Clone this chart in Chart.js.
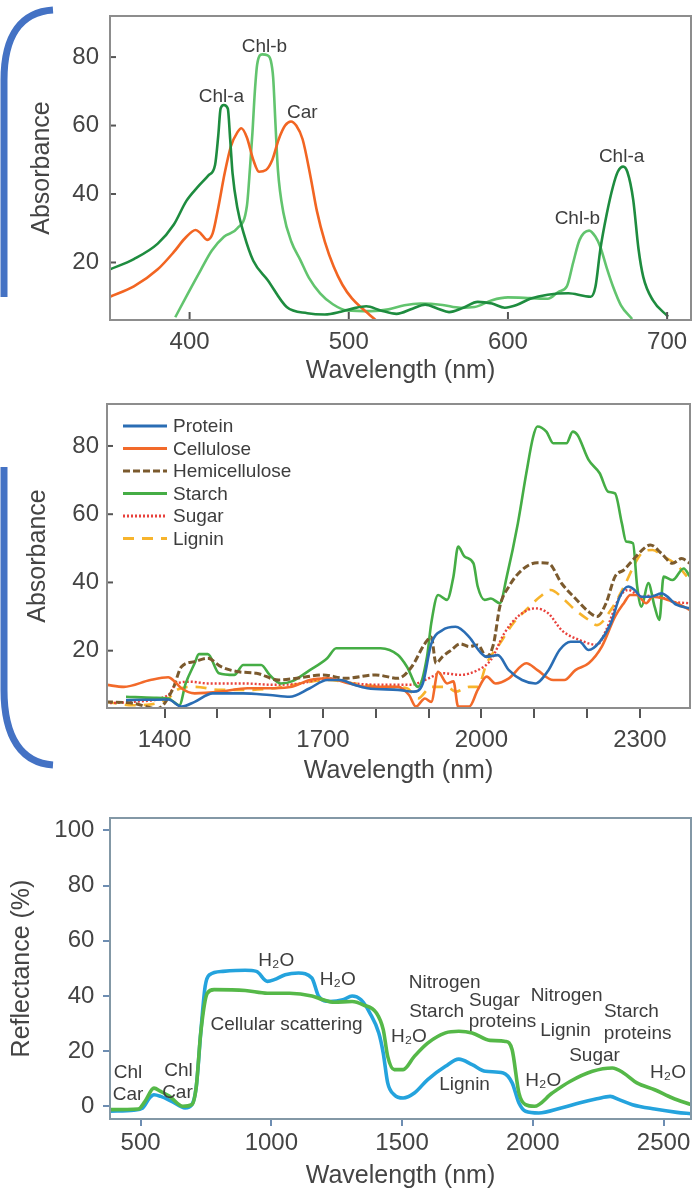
<!DOCTYPE html>
<html>
<head>
<meta charset="utf-8">
<script src="https://cdn.jsdelivr.net/npm/chart.js@4.4.1/dist/chart.umd.min.js"></script>
<style>
html, body { margin: 0; padding: 0; background: #fff; }
#wrap { position: relative; width: 694px; height: 1189px; overflow: hidden; }
canvas { position: absolute; left: 0; }
#c1 { top: 0; width: 694px; height: 390px; }
#c2 { top: 390px; width: 694px; height: 400px; }
#c3 { top: 800px; width: 694px; height: 389px; }
svg { position: absolute; left: 0; top: 0; }
</style>
</head>
<body>
<div id="wrap">
  <canvas id="c1" width="694" height="390"></canvas>
  <canvas id="c2" width="694" height="400"></canvas>
  <canvas id="c3" width="694" height="389"></canvas>
  <svg width="694" height="1189">
    <path d="M 53 10 C 22 12, 4 34, 4 80 L 4 297" fill="none" stroke="#4472c4" stroke-width="7"/>
    <path d="M 4 467 L 4 690 C 4 738, 22 763, 53 765" fill="none" stroke="#4472c4" stroke-width="7"/>
  </svg>
</div>
<script>
// --- painel 1: pigmentos (visivel) ---
const chlaNm  = [350, 365, 380, 390, 398, 405, 412, 416, 418, 419.5, 421.5, 424, 425.5, 427, 430, 434, 440, 449, 461, 474, 485, 495, 503, 511, 520, 530, 540, 548, 556, 563, 572, 581, 590, 598, 605, 614, 625, 638, 648, 652, 655, 658, 662, 666, 669, 672.4, 675, 678.7, 682, 685, 691, 700.6];
const chlaAbs = [18, 21, 25.5, 31, 38, 42, 45.5, 48.5, 57, 65, 66, 65, 56, 46, 36, 28.5, 20.5, 14.9, 7, 5.2, 4.8, 5.6, 6.6, 7.2, 6, 5, 6.5, 7.7, 6.5, 5.5, 6.8, 8.5, 8, 6.8, 7.5, 9.4, 10.6, 11, 10.2, 10, 13, 23.7, 34, 42.2, 46.5, 48, 46.5, 38.3, 24, 15.8, 9, 4.2];
const chlbNm  = [391, 399, 407, 414, 421.6, 430, 436, 438, 439.5, 441, 442.5, 445.6, 449, 451, 452.5, 454, 455.5, 459, 464, 469.6, 475, 482, 490, 499, 514, 525, 535, 545, 559, 570, 579, 590, 600, 614, 625, 632, 637, 641, 645, 651, 655, 658, 662, 666, 671, 678];
const chlbAbs = [4, 11, 17.8, 23.5, 27.5, 30, 36.5, 48, 58, 70, 78, 80.8, 80.5, 79, 74, 60, 47, 34.4, 26, 20.7, 15.5, 11, 7.8, 6, 5.8, 6.3, 7.5, 8, 7.6, 6.8, 7, 9, 9.8, 9.6, 9.4, 11.5, 13, 20, 26.6, 29.3, 27.5, 24.6, 18.5, 13, 7.5, 3.5];
const carNm   = [350, 365, 380, 390, 397, 403.8, 407, 411, 414.5, 418, 422, 426, 430, 432.5, 436, 440, 443.6, 448, 452, 456, 460, 463.7, 467, 471, 476, 480, 485, 490.5, 496, 502, 508, 512, 516.8];
const carAbs  = [10, 13, 18, 23, 27, 29.5, 28.5, 26.6, 28.5, 36, 46, 54, 58, 59.2, 56.5, 50, 46.5, 47, 50, 56, 60, 61.2, 60, 56, 45, 35, 26, 18.8, 13.5, 9.5, 6.8, 5.2, 3.2];
const topNoteText = ['Chl-a', 'Chl-b', 'Car', 'Chl-a', 'Chl-b'];
const topNoteNm   = [420, 447, 470.8, 671.4, 643.6];
const topNoteAbs  = [68.5, 83.1, 63.6, 50.8, 32.7];
const topTicksX = [400, 500, 600, 700];
const absTicksY = [20, 40, 60, 80];

// --- painel 2: constituintes (NIR/SWIR) ---
const proteinNm  = [1327, 1360, 1407, 1432, 1457, 1491, 1549, 1599, 1637, 1675, 1708, 1733, 1759, 1784, 1842, 1872, 1889, 1905, 1926, 1951, 1977, 1997, 2010, 2031, 2052, 2077, 2102, 2127, 2148, 2169, 2186, 2203, 2224, 2245, 2262, 2278, 2290, 2303, 2320, 2341, 2370, 2395];
const proteinAbs = [5.5, 5.6, 5.7, 3.6, 5, 7.5, 7.5, 7, 6.5, 9, 11.4, 11.4, 10, 9, 8.5, 8, 10.4, 22, 26, 27, 24, 19.7, 18.2, 18.7, 14.3, 11.4, 10.4, 14.3, 20.2, 22.6, 22.6, 20.2, 22.6, 28, 35.8, 38.8, 37.8, 35.8, 35.8, 36.8, 33.4, 32.4];
const celluloseNm  = [1289, 1323, 1373, 1407, 1419, 1432, 1457, 1507, 1557, 1608, 1641, 1675, 1708, 1750, 1784, 1842, 1863, 1876, 1893, 1905, 1918, 1935, 1947, 1956, 1977, 1993, 2010, 2027, 2052, 2085, 2106, 2136, 2157, 2178, 2203, 2228, 2253, 2270, 2282, 2295, 2312, 2324, 2345, 2370, 2395];
const celluloseAbs = [10, 9.4, 11.4, 12.2, 11, 9, 7.5, 8, 9, 9, 9.4, 11.4, 11.9, 10.4, 9.4, 9.4, 7, 3.6, 6, 5, 13.8, 10.4, 11, 3.6, 3.6, 8.5, 12.4, 10.4, 11.9, 16.3, 14.3, 11.4, 11.4, 14.3, 16.3, 21.2, 30, 34, 36.3, 36.3, 33.9, 35.8, 35.3, 33.9, 31.9];
const hemiNm  = [1289, 1340, 1386, 1415, 1432, 1457, 1482, 1507, 1541, 1574, 1616, 1650, 1700, 1742, 1800, 1842, 1868, 1893, 1905, 1914, 1926, 1943, 1960, 1977, 1993, 2010, 2023, 2035, 2052, 2077, 2106, 2127, 2152, 2178, 2203, 2219, 2236, 2253, 2270, 2287, 2308, 2320, 2341, 2362, 2379, 2395];
const hemiAbs = [5, 4.6, 3, 8.5, 15.3, 16.8, 17.8, 15.3, 13.8, 13.4, 11.4, 11.9, 12.9, 11.9, 12.9, 11.9, 15.3, 22.1, 24, 16.3, 18.2, 20.2, 22, 21.2, 21.7, 18.2, 22, 33, 38.8, 43.7, 45.8, 45.6, 39.7, 35.3, 31.4, 30, 33.9, 41.7, 43.7, 46.6, 50, 51, 48.5, 45.6, 47, 45.6];
const starchNm  = [1327, 1380, 1407, 1428, 1440, 1457, 1465, 1482, 1503, 1532, 1549, 1583, 1599, 1620, 1641, 1675, 1708, 1725, 1809, 1842, 1859, 1880, 1897, 1905, 1918, 1935, 1947, 1956, 1968, 1985, 1993, 2006, 2018, 2035, 2048, 2069, 2085, 2098, 2106, 2123, 2136, 2161, 2173, 2182, 2203, 2224, 2240, 2253, 2266, 2274, 2287, 2295, 2303, 2316, 2328, 2337, 2345, 2362, 2383, 2395];
const starchAbs = [6.5, 6.2, 6, 4, 10.4, 16.3, 19, 19, 13.4, 12.9, 15.8, 15.8, 12.9, 10.4, 11, 14.3, 17.8, 20.7, 20.7, 18.7, 15.3, 9.4, 18.2, 28, 36.3, 34.9, 41.7, 50.5, 47.6, 45.6, 38.8, 34.9, 35.3, 33.9, 41.7, 57.3, 72, 82.7, 85.7, 84.2, 80.8, 80.8, 84.2, 83.2, 75.9, 72, 66.6, 66.1, 57.3, 52, 51.5, 38.8, 32.9, 39.8, 32.9, 29, 41.7, 40.7, 44.1, 41.7];
const sugarNm  = [1289, 1340, 1407, 1423, 1449, 1482, 1549, 1608, 1658, 1708, 1759, 1817, 1868, 1893, 1926, 1960, 1993, 2018, 2043, 2069, 2102, 2127, 2152, 2186, 2219, 2236, 2262, 2278, 2303, 2328, 2362, 2395];
const sugarAbs = [4.6, 5, 7, 10.4, 10.9, 10.4, 10.4, 10, 10.4, 11.9, 10.4, 10, 10, 11.4, 13.4, 12.9, 14.3, 17.3, 25, 30, 32.4, 30.9, 26, 23.1, 21.7, 26, 35.8, 37.8, 35.8, 36.3, 34.4, 33.9];
const ligninNm  = [1289, 1340, 1407, 1423, 1457, 1507, 1557, 1608, 1658, 1708, 1759, 1817, 1859, 1880, 1905, 1935, 1951, 1977, 1993, 2010, 2035, 2060, 2085, 2111, 2131, 2157, 2178, 2203, 2219, 2245, 2270, 2291, 2303, 2324, 2345, 2370, 2395];
const ligninAbs = [5, 4, 6, 8.5, 9.4, 8.5, 8.5, 9, 10.4, 11.4, 10.4, 9.4, 9, 6, 9.4, 9.4, 8, 9.4, 9.4, 16.3, 22.1, 28, 32, 35.8, 37.8, 34.9, 31.9, 29, 27.5, 31.9, 38.8, 45.6, 48.5, 49.5, 47.6, 45.1, 40.7];
const midTicksX  = [1400, 1500, 1600, 1700, 1800, 1900, 2000, 2100, 2200, 2300];
const midLabelsX = [1400, 1700, 2000, 2300];

// --- painel 3: reflectancia da folha ---
const blueNm  = [383, 474, 508, 534, 551, 577, 619, 670, 696, 713, 730, 747, 764, 815, 900, 943, 985, 1011, 1053, 1104, 1155, 1181, 1223, 1274, 1309, 1343, 1377, 1411, 1428, 1445, 1470, 1504, 1547, 1598, 1666, 1717, 1768, 1819, 1887, 1921, 1947, 1972, 2023, 2108, 2177, 2245, 2296, 2330, 2381, 2466, 2551, 2605];
const blueRef = [-1.8, -1.4, -0.6, 3, 4.2, 3.6, 1.8, -0.6, 0.6, 7.2, 26.6, 43.5, 47.7, 48.9, 49.3, 48.9, 45.3, 45.9, 47.7, 48.3, 46.5, 39.9, 38, 38.6, 40, 38.6, 33.8, 26.6, 19.3, 8.5, 4.2, 3, 4.8, 9.7, 14.5, 17.1, 15.1, 12.7, 12.1, 8.5, 1.2, -1.8, -2.4, -0.6, 1.2, 2.7, 3.6, 2.4, 0.6, -1, -2.2, -2.7];
const greenNm  = [383, 491, 517, 551, 577, 611, 662, 696, 713, 730, 755, 781, 900, 985, 1070, 1155, 1198, 1240, 1309, 1351, 1402, 1428, 1445, 1470, 1504, 1547, 1598, 1666, 1717, 1768, 1836, 1896, 1921, 1947, 1972, 2006, 2074, 2142, 2228, 2304, 2347, 2398, 2466, 2534, 2605];
const greenRef = [-1.2, -1, 1.8, 6.6, 5.4, 3.6, 0, 0.6, 7.2, 26.6, 41, 42.3, 42, 41, 41, 40, 38.6, 37.7, 38, 36.8, 33.8, 27.8, 18.1, 13.3, 13.3, 18.1, 22.9, 26.6, 27.2, 26.6, 23.9, 23.5, 20.5, 4.8, 0.6, 0, 4.8, 9, 12.7, 13.9, 12.1, 8.5, 6, 3, 0.6];
const refNoteText = ['H\u2082O', 'H\u2082O', 'Cellular scattering', 'Nitrogen', 'Starch', 'Sugar', 'proteins', 'H\u2082O', 'Lignin', 'Nitrogen', 'Lignin', 'Starch', 'proteins', 'Sugar', 'H\u2082O', 'H\u2082O', 'Chl', 'Car', 'Chl', 'Car'];
const refNoteNm   = [1019, 1254, 1058, 1663, 1632, 1853, 1884, 1526, 1739, 2129, 2125, 2377, 2401, 2236, 2040, 2517, 452, 452, 645, 641];
const refNoteRef  = [52.8, 45.9, 29.6, 44.9, 34.2, 38.4, 30.8, 25.1, 7.9, 39.9, 27.4, 34.2, 26.2, 18.5, 9.3, 12.1, 12.3, 4.2, 13, 4.8];
const refTicksX = [500, 1000, 1500, 2000, 2500];
const refTicksY = [0, 20, 40, 60, 80, 100];

const FONT = "'Liberation Sans', Arial, Helvetica, sans-serif";
Chart.defaults.font.family = FONT;

function pts(xs, ys) {
    return xs.map((x, i) => ({ x: x, y: ys[i] }));
}

function serie(label, xs, ys, color, width, dash) {
    return {
        label: label,
        data: pts(xs, ys),
        borderColor: color,
        backgroundColor: color,
        borderWidth: width,
        borderDash: dash || [],
        pointRadius: 0,
        tension: 0.4,
        cubicInterpolationMode: 'monotone',
        fill: false
    };
}

// moldura, ticks para dentro, textos e legenda
const panelDeco = {
    id: 'panelDeco',
    afterDraw(chart, args, o) {
        const { ctx, chartArea: a, scales } = chart;
        ctx.save();
        ctx.strokeStyle = o.tickColor || '#555';
        ctx.lineWidth = 2;
        if (o.innerX) {
            scales.x.ticks.forEach(t => {
                const px = scales.x.getPixelForValue(t.value);
                ctx.beginPath(); ctx.moveTo(px, a.bottom); ctx.lineTo(px, a.bottom - o.innerX); ctx.stroke();
            });
        }
        if (o.innerY) {
            scales.y.ticks.forEach(t => {
                const py = scales.y.getPixelForValue(t.value);
                ctx.beginPath(); ctx.moveTo(a.left, py); ctx.lineTo(a.left + o.innerY, py); ctx.stroke();
            });
        }
        ctx.strokeStyle = o.frameColor;
        ctx.lineWidth = 2;
        ctx.strokeRect(a.left, a.top, a.right - a.left, a.bottom - a.top);

        if (o.notes) {
            ctx.fillStyle = '#3d3d3d';
            ctx.font = '19px ' + FONT;
            ctx.textAlign = 'center';
            ctx.textBaseline = 'middle';
            o.notes.text.forEach((txt, i) => {
                ctx.fillText(txt, scales.x.getPixelForValue(o.notes.x[i]), scales.y.getPixelForValue(o.notes.y[i]));
            });
        }

        if (o.legend) {
            ctx.font = '19px ' + FONT;
            ctx.textAlign = 'left';
            ctx.textBaseline = 'middle';
            chart.data.datasets.forEach((ds, i) => {
                const y = o.legend.top + i * o.legend.step;
                ctx.strokeStyle = ds.borderColor;
                ctx.lineWidth = 3;
                ctx.setLineDash(ds.borderDash);
                ctx.beginPath(); ctx.moveTo(o.legend.left, y); ctx.lineTo(o.legend.left + 44, y); ctx.stroke();
                ctx.setLineDash([]);
                ctx.fillStyle = '#3d3d3d';
                ctx.fillText(ds.label, o.legend.left + 50, y + 1);
            });
        }
        ctx.restore();
    }
};

function eixoX(o) {
    return {
        type: 'linear',
        min: o.min, max: o.max,
        afterFit: s => { s.height = o.height; s.paddingLeft = 0; s.paddingRight = 0; },
        afterBuildTicks: s => { s.ticks = o.ticks.map(v => ({ value: v })); },
        grid: { display: o.tickLen > 0, drawOnChartArea: false, drawTicks: o.tickLen > 0, tickLength: o.tickLen, color: o.tickColor, lineWidth: 2 },
        border: { display: false },
        ticks: {
            autoSkip: false, maxRotation: 0,
            padding: o.pad, color: '#444', font: { size: 24 },
            callback: v => (!o.labels || o.labels.includes(v) ? String(v) : '')
        },
        title: { display: true, text: 'Wavelength (nm)', color: '#444', font: { size: 25, lineHeight: 1 }, padding: { top: 0, bottom: o.titlePad } }
    };
}

function eixoY(o) {
    return {
        type: 'linear',
        min: o.min, max: o.max,
        afterFit: s => { s.width = o.width; s.paddingTop = 0; s.paddingBottom = 0; },
        afterBuildTicks: s => { s.ticks = o.ticks.map(v => ({ value: v })); },
        grid: { display: o.tickLen > 0, drawOnChartArea: false, drawTicks: o.tickLen > 0, tickLength: o.tickLen, color: o.tickColor, lineWidth: 2 },
        border: { display: false },
        ticks: { padding: o.pad, color: '#444', font: { size: 24 }, callback: v => String(v) },
        title: { display: true, text: o.title, color: '#444', font: { size: 25, lineHeight: 1 }, padding: { top: o.titlePad, bottom: 0 } }
    };
}

function baseOptions(pad, scales, deco) {
    return {
        responsive: false,
        animation: false,
        devicePixelRatio: 1,
        layout: { padding: pad },
        scales: scales,
        plugins: { legend: { display: false }, tooltip: { enabled: false }, panelDeco: deco }
    };
}

new Chart(document.getElementById('c1'), {
    type: 'line',
    data: {
        datasets: [
            serie('Chl-a', chlaNm, chlaAbs, '#1e8c3f', 2.6),
            serie('Car', carNm, carAbs, '#f26522', 2.6),
            serie('Chl-b', chlbNm, chlbAbs, '#62c46e', 2.6)
        ]
    },
    options: baseOptions(
        { left: 0, right: 3, top: 16, bottom: 0 },
        {
            x: eixoX({ min: 350, max: 715, ticks: topTicksX, height: 70, tickLen: 0, pad: 8, titlePad: 6.5 }),
            y: eixoY({ min: 3.2, max: 92, ticks: absTicksY, width: 110, tickLen: 0, pad: 11, title: 'Absorbance', titlePad: 29.5 })
        },
        { frameColor: '#8d8d8d', innerX: 8, innerY: 6, notes: { text: topNoteText, x: topNoteNm, y: topNoteAbs } }
    ),
    plugins: [panelDeco]
});

new Chart(document.getElementById('c2'), {
    type: 'line',
    data: {
        datasets: [
            serie('Protein', proteinNm, proteinAbs, '#2a6db4', 2.6),
            serie('Cellulose', celluloseNm, celluloseAbs, '#f26a2a', 2.6),
            serie('Hemicellulose', hemiNm, hemiAbs, '#7b5a2e', 3, [7, 3]),
            serie('Starch', starchNm, starchAbs, '#45ad45', 2.6),
            serie('Sugar', sugarNm, sugarAbs, '#e8413c', 2.4, [2, 2]),
            serie('Lignin', ligninNm, ligninAbs, '#f7b42c', 2.6, [11, 8])
        ]
    },
    options: baseOptions(
        { left: 0, right: 4, top: 14, bottom: 0 },
        {
            x: eixoX({ min: 1291, max: 2395, ticks: midTicksX, labels: midLabelsX, height: 82, tickLen: 10, tickColor: '#555', pad: 8, titlePad: 6.5 }),
            y: eixoY({ min: 3.2, max: 92.3, ticks: absTicksY, width: 107, tickLen: 0, pad: 8, title: 'Absorbance', titlePad: 25.5 })
        },
        { frameColor: '#8d8d8d', innerY: 6, legend: { left: 123, top: 36, step: 22.5 } }
    ),
    plugins: [panelDeco]
});

new Chart(document.getElementById('c3'), {
    type: 'line',
    data: {
        datasets: [
            serie('Reflectance 1', greenNm, greenRef, '#55b848', 3.6),
            serie('Reflectance 2', blueNm, blueRef, '#24a3dd', 3.6)
        ]
    },
    options: baseOptions(
        { left: 0, right: 3, top: 18, bottom: 0 },
        {
            x: eixoX({ min: 383, max: 2605, ticks: refTicksX, height: 70, tickLen: 7, tickColor: '#6d8db2', pad: 3, titlePad: 0.5 }),
            y: eixoY({ min: -4.6, max: 104.5, ticks: refTicksY, width: 110, tickLen: 7, tickColor: '#6d8db2', pad: 8.6, title: 'Reflectance (%)', titlePad: 9.5 })
        },
        { frameColor: '#8398a6', notes: { text: refNoteText, x: refNoteNm, y: refNoteRef } }
    ),
    plugins: [panelDeco]
});
</script>
</body>
</html>
